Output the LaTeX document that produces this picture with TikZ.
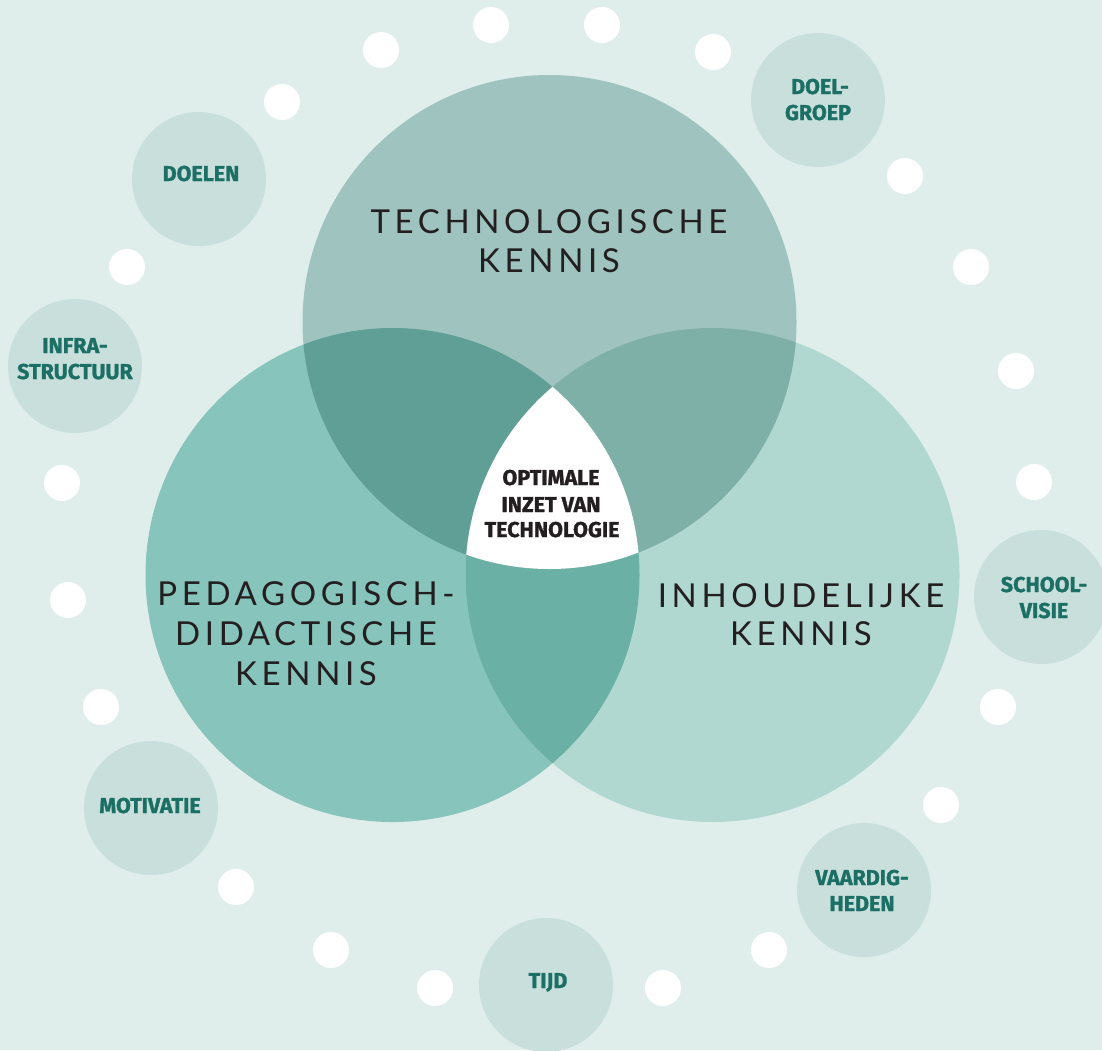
\documentclass[tikz,border=0pt]{standalone}
\usepackage{fontspec}
\newfontfamily\mainlab[LetterSpace=14]{Lato}
\newfontfamily\boldlab[BoldFeatures={FakeBold=1.3}]{Fira Sans}
\definecolor{bgc}{HTML}{DFEEEB}
\definecolor{topc}{HTML}{9FC4C0}
\definecolor{leftc}{HTML}{87C4BB}
\definecolor{rightc}{HTML}{B0D8D1}
\definecolor{tlc}{HTML}{5F9F95}
\definecolor{trc}{HTML}{7FB0A8}
\definecolor{lrc}{HTML}{6AB0A5}
\definecolor{smallc}{HTML}{C9DFDC}
\definecolor{tealtxt}{HTML}{1B6F64}
\definecolor{darktxt}{HTML}{231F20}
\begin{document}
\begin{tikzpicture}[x=1pt,y=-1pt,
  bigtxt/.style={anchor=base,inner sep=0pt,text=darktxt,font=\mainlab\fontsize{33}{39}\selectfont},
  smalltxt/.style={anchor=base,inner sep=0pt,text=tealtxt,font=\boldlab\bfseries\fontsize{21.5}{26}\selectfont},
  centertxt/.style={anchor=base,inner sep=0pt,text=darktxt,font=\boldlab\bfseries\fontsize{21.5}{26}\selectfont},
  smallcirc/.style={circle,fill=smallc,minimum size=134pt,inner sep=0pt},
  dot/.style={circle,fill=white,minimum size=36pt,inner sep=0pt}]
\fill[bgc] (0,0) rectangle (1102,1050);
\useasboundingbox (0,0) rectangle (1102,1050);
% big circles
\coordinate (T) at (549.5,322);
\coordinate (L) at (392.5,575);
\coordinate (R) at (712.5,575);
\fill[leftc] (L) circle[radius=247pt];
\fill[rightc] (R) circle[radius=247pt];
\fill[topc] (T) circle[radius=247pt];
\begin{scope}
  \clip (T) circle[radius=247pt];
  \fill[tlc] (L) circle[radius=247pt];
\end{scope}
\begin{scope}
  \clip (T) circle[radius=247pt];
  \fill[trc] (R) circle[radius=247pt];
\end{scope}
\begin{scope}
  \clip (L) circle[radius=247pt];
  \fill[lrc] (R) circle[radius=247pt];
\end{scope}
\begin{scope}
  \clip (T) circle[radius=247pt];
  \clip (L) circle[radius=247pt];
  \fill[white] (R) circle[radius=247pt];
\end{scope}
% white dots
\foreach \p [count=\i] in {(491,25),(602,25),(381,50),(713,52),(282,102),(905,176),(127,267),(971,267),(1016,371),(62,483),(1034,482),(68,600),(998,707),(101,707),(941,805),(236,887),(769,950),(331,950),(435,988),(663,988)}
  \node[dot] (dot\i) at \p {};
% small circles
\node[smallcirc] (doelen) at (199,179) {};
\node[smallcirc] (infra) at (75,366) {};
\node[smallcirc] (doelgroep) at (818,100) {};
\node[smallcirc] (schoolvisie) at (1041,597) {};
\node[smallcirc] (vaardig) at (864,890) {};
\node[smallcirc] (tijd) at (546,985) {};
\node[smallcirc] (motivatie) at (151,808) {};
% small labels
\node[smalltxt] (t-doelen) at (201,181) {DOELEN};
\node[smalltxt] (t-infra1) at (75,353) {INFRA-};
\node[smalltxt] (t-infra2) at (75,379) {STRUCTUUR};
\node[smalltxt] (t-dg1) at (820,94) {DOEL-};
\node[smalltxt] (t-dg2) at (818,120) {GROEP};
\node[smalltxt] (t-sv1) at (1044,592) {SCHOOL-};
\node[smalltxt] (t-sv2) at (1044,618) {VISIE};
\node[smalltxt] (t-v1) at (862,885) {VAARDIG-};
\node[smalltxt] (t-v2) at (862,911) {HEDEN};
\node[smalltxt] (t-tijd) at (548,988) {TIJD};
\node[smalltxt] (t-mot) at (150,813) {MOTIVATIE};
% center
\node[centertxt] (c1) at (551,485) {OPTIMALE};
\node[centertxt] (c2) at (551,512) {INZET VAN};
\node[centertxt] (c3) at (552,537) {TECHNOLOGIE};
% main labels
\node[bigtxt] (tk1) at (549,233) {TECHNOLOGISCHE};
\node[bigtxt] (tk2) at (549,272) {KENNIS};
\node[bigtxt] (pk1) at (306,605) {PEDAGOGISCH-};
\node[bigtxt] (pk2) at (306,645) {DIDACTISCHE};
\node[bigtxt] (pk3) at (306,685) {KENNIS};
\node[bigtxt] (ik1) at (801,607) {INHOUDELIJKE};
\node[bigtxt] (ik2) at (801,645) {KENNIS};
\end{tikzpicture}
\end{document}
